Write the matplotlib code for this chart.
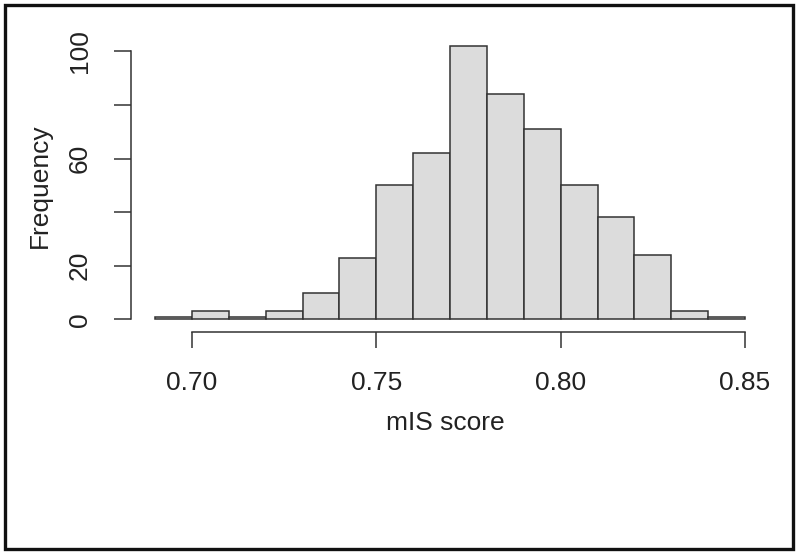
import matplotlib
matplotlib.use("Agg")
import matplotlib.pyplot as plt
from matplotlib.patches import Rectangle

bin_left = [0.69, 0.70, 0.71, 0.72, 0.73, 0.74, 0.75, 0.76,
            0.77, 0.78, 0.79, 0.80, 0.81, 0.82, 0.83, 0.84]
counts = [1, 3, 1, 3, 10, 23, 50, 62, 102, 84, 71, 50, 38, 24, 3, 1]
x_ticks = [0.70, 0.75, 0.80, 0.85]
x_ticklabels = ["0.70", "0.75", "0.80", "0.85"]
y_ticks = [0, 20, 40, 60, 80, 100]
y_ticklabels = ["0", "20", "", "60", "", "100"]

plt.rcParams["font.family"] = ["Liberation Sans", "DejaVu Sans"]

txt = "#222222"
fig = plt.figure(figsize=(8, 5.55), dpi=100)
fig.patch.set_facecolor("white")
fig.add_artist(Rectangle((5 / 800, 1 - 549 / 555), 788 / 800, 544 / 555,
                         transform=fig.transFigure, fill=False,
                         edgecolor="#111111", linewidth=2.4))

# axes box: left at y-spine (x=131 px), bottom at x-spine (y=331.5 px)
ax = fig.add_axes([131 / 800, 1 - 331.5 / 555, (760 - 131) / 800, (331.5 - 40) / 555])
# 0.69 -> 155 px, 0.85 -> 745 px ; 0 -> 319.3 px, 100 -> 51.3 px
ppx = (745 - 155) / 0.16
ax.set_xlim(0.69 - (155 - 131) / ppx, 0.69 + (760 - 155) / ppx)
ppy = (319.3 - 51.3) / 100
ax.set_ylim(-(331.5 - 319.3) / ppy, (319.3 - 40) / ppy)

ax.bar(bin_left, counts, width=0.01, align="edge", color="#dcdcdc",
       edgecolor="#333333", linewidth=1.1)

for s in ["top", "right"]:
    ax.spines[s].set_visible(False)
ax.spines["left"].set_bounds(0, 100)
ax.spines["bottom"].set_bounds(0.70, 0.85)
for s in ["left", "bottom"]:
    ax.spines[s].set_color("#333333")
    ax.spines[s].set_linewidth(1.1)

ax.set_xticks(x_ticks)
ax.set_xticklabels(x_ticklabels)
ax.set_yticks(y_ticks)
ax.set_yticklabels(y_ticklabels, rotation=90, va="center")
ax.tick_params(axis="x", length=11.8, width=1.1, color="#333333",
               pad=17, labelsize=19, labelcolor=txt)
ax.tick_params(axis="y", length=12.0, width=1.1, color="#333333",
               pad=16, labelsize=19, labelcolor=txt)

ax.set_xlabel("mIS score", fontsize=19, color=txt, labelpad=11)
ax.set_ylabel("Frequency", fontsize=19, color=txt, labelpad=12)

fig.savefig("out.png", dpi=100)
